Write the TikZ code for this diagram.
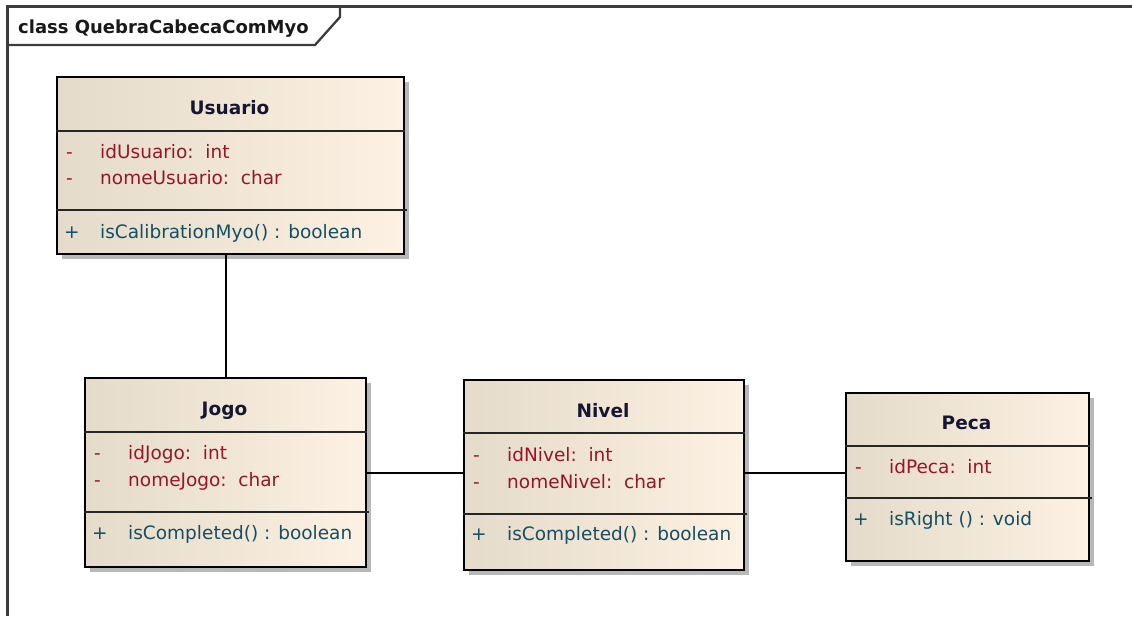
\documentclass[tikz,border=0pt]{standalone}
\usepackage{fontspec}
\setmainfont{DejaVu Sans}
\usetikzlibrary{shadows,calc}
\definecolor{boxleft}{RGB}{229,219,202}
\definecolor{boxright}{RGB}{252,241,226}
\definecolor{attrred}{RGB}{150,22,40}
\definecolor{opteal}{RGB}{22,78,98}
\definecolor{titleink}{RGB}{22,22,48}
\definecolor{frameink}{RGB}{60,60,60}
\begin{document}
\begin{tikzpicture}[x=1pt,y=-1pt,
  frame/.style={draw=frameink, line width=2.3pt},
  classbox/.style={draw=black, line width=1.9pt, left color=boxleft, right color=boxright,
    inner sep=0pt, anchor=north west,
    drop shadow={shadow xshift=5pt, shadow yshift=-5pt, fill=black!28, opacity=1}},
  divider/.style={draw=black!85, line width=1.4pt},
  assoc/.style={draw=black, line width=1.5pt},
  txt/.style={inner sep=0pt, anchor=base west, font=\fontsize{18.5}{22}\selectfont},
  ctitle/.style={inner sep=0pt, anchor=base, text=titleink, font=\bfseries\fontsize{18.5}{22}\selectfont},
  attr/.style={txt, text=attrred},
  oper/.style={txt, text=opteal}]
\useasboundingbox (0,0) rectangle (1132,616);

% diagram frame with its name tab
\draw[frame] (7.5,616) -- (7.5,6.5) -- (1132,6.5);
\draw[frame] (7.5,45) -- (315,45) -- (340,17) -- (340,6.5);
\node[inner sep=0pt, anchor=base west, text=black!90, font=\bfseries\fontsize{18}{22}\selectfont]
  (frametitle) at (18,33) {class QuebraCabecaComMyo};

% class boxes
\node[classbox, minimum width=347pt, minimum height=177pt] (usuario) at (56,76) {};
\node[classbox, minimum width=281pt, minimum height=189pt] (jogo) at (84,377) {};
\node[classbox, minimum width=280pt, minimum height=190pt] (nivel) at (463,379) {};
\node[classbox, minimum width=243pt, minimum height=168pt] (peca) at (845,392) {};

% compartment separators
\draw[divider] ($(usuario.north west)+(0,55)$) -- ($(usuario.north east)+(0,55)$);
\draw[divider] ($(usuario.north west)+(0,134)$) -- ($(usuario.north east)+(2,134)$);
\draw[divider] ($(jogo.north west)+(0,55)$) -- ($(jogo.north east)+(0,55)$);
\draw[divider] ($(jogo.north west)+(0,135)$) -- ($(jogo.north east)+(2,135)$);
\draw[divider] ($(nivel.north west)+(0,54)$) -- ($(nivel.north east)+(0,54)$);
\draw[divider] ($(nivel.north west)+(0,135)$) -- ($(nivel.north east)+(2,135)$);
\draw[divider] ($(peca.north west)+(0,54)$) -- ($(peca.north east)+(0,54)$);
\draw[divider] ($(peca.north west)+(0,106)$) -- ($(peca.north east)+(2,106)$);

% Usuario
\node[ctitle] (usuario-name) at (229.5,114.5) {Usuario};
\node[attr] (usuario-v1) at (66,158.5) {-};
\node[attr] (usuario-a1) at (100,158.5) {idUsuario:~~int};
\node[attr] (usuario-v2) at (66,184.5) {-};
\node[attr] (usuario-a2) at (100,184.5) {nomeUsuario:~~char};
\node[oper] (usuario-v3) at (64,238.5) {+};
\node[oper] (usuario-o1) at (100,238.5) {isCalibrationMyo() : boolean};

% Jogo
\node[ctitle] (jogo-name) at (224.5,415.5) {Jogo};
\node[attr] (jogo-v1) at (94,459.5) {-};
\node[attr] (jogo-a1) at (128,459.5) {idJogo:~~int};
\node[attr] (jogo-v2) at (94,486.5) {-};
\node[attr] (jogo-a2) at (128,486.5) {nomeJogo:~~char};
\node[oper] (jogo-v3) at (92,539.5) {+};
\node[oper] (jogo-o1) at (128,539.5) {isCompleted() : boolean};

% Nivel
\node[ctitle] (nivel-name) at (603,417.5) {Nivel};
\node[attr] (nivel-v1) at (473,461.5) {-};
\node[attr] (nivel-a1) at (507,461.5) {idNivel:~~int};
\node[attr] (nivel-v2) at (473,488.5) {-};
\node[attr] (nivel-a2) at (507,488.5) {nomeNivel:~~char};
\node[oper] (nivel-v3) at (471,540.5) {+};
\node[oper] (nivel-o1) at (507,540.5) {isCompleted() : boolean};

% Peca
\node[ctitle] (peca-name) at (966.5,429.5) {Peca};
\node[attr] (peca-v1) at (855,473.5) {-};
\node[attr] (peca-a1) at (889,473.5) {idPeca:~~int};
\node[oper] (peca-v3) at (853,525.5) {+};
\node[oper] (peca-o1) at (889,525.5) {isRight () : void};

% associations
\coordinate (ujcol) at (226,0);
\coordinate (assocrow) at (0,473);
\draw[assoc] (usuario.south -| ujcol) -- (jogo.north -| ujcol);
\draw[assoc] (jogo.east |- assocrow) -- (nivel.west |- assocrow);
\draw[assoc] (nivel.east |- assocrow) -- (peca.west |- assocrow);
\end{tikzpicture}
\end{document}
